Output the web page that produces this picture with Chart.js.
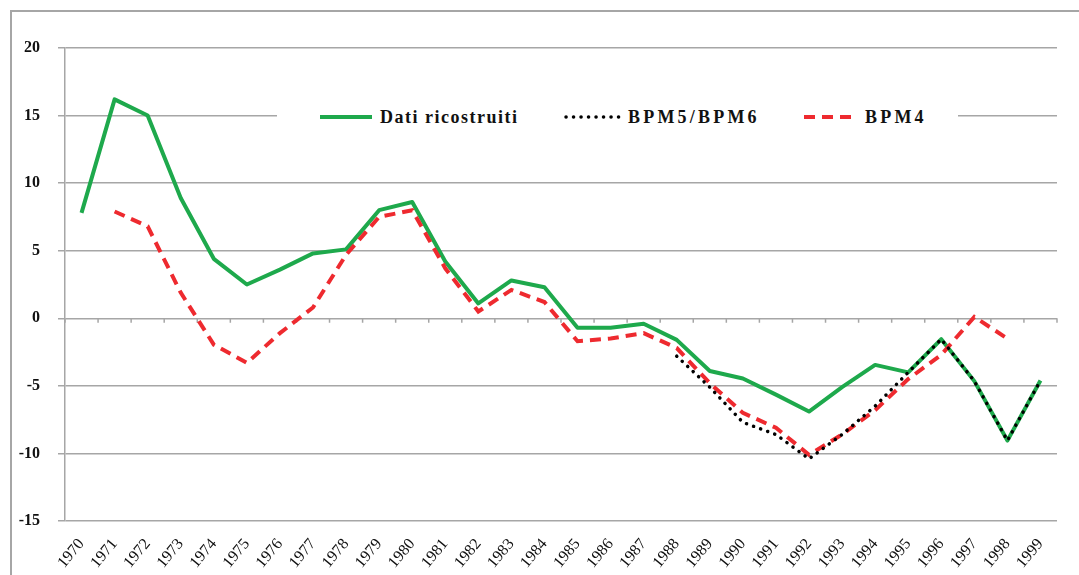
<!DOCTYPE html>
<html>
<head>
<meta charset="utf-8">
<script src="https://cdn.jsdelivr.net/npm/chart.js@4"></script>
<style>
  html, body { margin: 0; padding: 0; background: #fff; }
  #wrap { position: relative; width: 1079px; height: 575px; overflow: hidden; }
  #frame { position: absolute; left: 10px; top: 10px; width: 1200px; height: 700px;
           border-left: 2px solid #a6a6a6; border-top: 2px solid #a6a6a6; pointer-events: none; }
  #legend { position: absolute; left: 277px; top: 101px; width: 681px; height: 32px; background: #fff;
            font-family: "Liberation Serif", serif; font-weight: bold; font-size: 18px; color: #111; }
  #legend .it { position: absolute; top: 0; height: 32px; line-height: 32px; white-space: nowrap; }
  #legend svg { position: absolute; top: 0; }
</style>
</head>
<body>
<div id="wrap">
  <canvas id="c" width="1079" height="575"></canvas>
  <div id="legend">
    <svg width="681" height="32">
      <line x1="43" y1="16" x2="95" y2="16" stroke="#1ea94c" stroke-width="4"/>
      <line x1="289" y1="16" x2="342" y2="16" stroke="#000" stroke-width="3.5" stroke-linecap="round" stroke-dasharray="0.1 7.4"/>
      <line x1="527" y1="16" x2="577" y2="16" stroke="#ee2a2f" stroke-width="4" stroke-dasharray="11 7"/>
    </svg>
    <span class="it" id="l1" style="left:103px; letter-spacing:1.5px"></span>
    <span class="it" id="l2" style="left:351px; letter-spacing:3.2px"></span>
    <span class="it" id="l3" style="left:588px; letter-spacing:3.2px"></span>
  </div>
  <div id="frame"></div>
</div>
<script>
const years = ["1970","1971","1972","1973","1974","1975","1976","1977","1978","1979",
               "1980","1981","1982","1983","1984","1985","1986","1987","1988","1989",
               "1990","1991","1992","1993","1994","1995","1996","1997","1998","1999"];
const seriesNames = ["Dati ricostruiti", "BPM5/BPM6", "BPM4"];
const datiRicostruiti = [7.8, 16.2, 15.0, 8.9, 4.4, 2.5, 3.6, 4.8, 5.1, 8.0,
                         8.6, 4.2, 1.1, 2.8, 2.3, -0.7, -0.7, -0.4, -1.6, -3.9,
                         -4.45, -5.65, -6.9, -5.1, -3.45, -4.0, -1.55, -4.65, -9.05, -4.6];
const bpm5bpm6 = [null, null, null, null, null, null, null, null, null, null,
                  null, null, null, null, null, null, null, null, -2.8, -5.1,
                  -7.7, -8.6, -10.4, -8.6, -6.5, -4.0, -1.55, -4.65, -9.05, -4.6];
const bpm4 = [null, 7.9, 6.8, 1.9, -1.95, -3.3, -1.1, 0.8, 4.7, 7.5,
              8.0, 3.7, 0.5, 2.1, 1.2, -1.7, -1.5, -1.1, -2.2, -4.8,
              -7.0, -8.1, -10.1, -8.6, -6.8, -4.5, -2.7, 0.1, -1.5, null];
const yTicks = [20, 15, 10, 5, 0, -5, -10, -15];

document.getElementById('l1').textContent = seriesNames[0];
document.getElementById('l2').textContent = seriesNames[1];
document.getElementById('l3').textContent = seriesNames[2];

const gridColor = '#a6a6a6';

const zeroTicks = {
  id: 'zeroTicks',
  beforeDatasetsDraw(chart) {
    const x = chart.scales.x, y = chart.scales.y;
    const ctx = chart.ctx;
    const y0 = y.getPixelForValue(0);
    const n = years.length;
    const step = (x.right - x.left) / n;
    ctx.save();
    ctx.strokeStyle = gridColor;
    ctx.lineWidth = 1.5;
    ctx.beginPath();
    for (let i = 0; i <= n; i++) {
      const px = x.left + i * step;
      ctx.moveTo(px, y0);
      ctx.lineTo(px, y0 + 4.5);
    }
    ctx.stroke();
    ctx.restore();
  }
};

new Chart(document.getElementById('c'), {
  type: 'line',
  data: {
    labels: years,
    datasets: [
      { label: seriesNames[0], data: datiRicostruiti, borderColor: '#1ea94c', borderWidth: 4,
        pointRadius: 0, tension: 0, order: 2, borderJoinStyle: 'round' },
      { label: seriesNames[1], data: bpm5bpm6, borderColor: '#000', borderWidth: 3.5,
        borderDash: [0.1, 7.4], borderCapStyle: 'round', pointRadius: 0, tension: 0, order: 0 },
      { label: seriesNames[2], data: bpm4, borderColor: '#ee2a2f', borderWidth: 4,
        borderDash: [11, 7], pointRadius: 0, tension: 0, order: 1 }
    ]
  },
  options: {
    responsive: false,
    animation: false,
    spanGaps: false,
    layout: { padding: { top: 48, right: 22, left: 0, bottom: 0 } },
    plugins: { legend: { display: false }, tooltip: { enabled: false } },
    scales: {
      x: {
        type: 'category',
        offset: true,
        grid: { display: false, drawTicks: false },
        border: { display: false },
        ticks: {
          autoSkip: false, maxRotation: 50, minRotation: 50, padding: 14,
          color: '#111', font: { family: 'Liberation Serif', size: 16 }
        },
        afterFit(s) { s.height = 54; }
      },
      y: {
        min: -15, max: 20,
        afterBuildTicks(s) { s.ticks = yTicks.map(v => ({ value: v })); },
        grid: { color: gridColor, lineWidth: 1.5, tickLength: 7, drawTicks: true },
        border: { display: true, color: gridColor, width: 1.5 },
        ticks: {
          padding: 18, color: '#111',
          font: { family: 'Liberation Serif', size: 16, weight: 'bold' }
        },
        afterFit(s) { s.width = 65; }
      }
    }
  },
  plugins: [zeroTicks]
});
</script>
</body>
</html>
